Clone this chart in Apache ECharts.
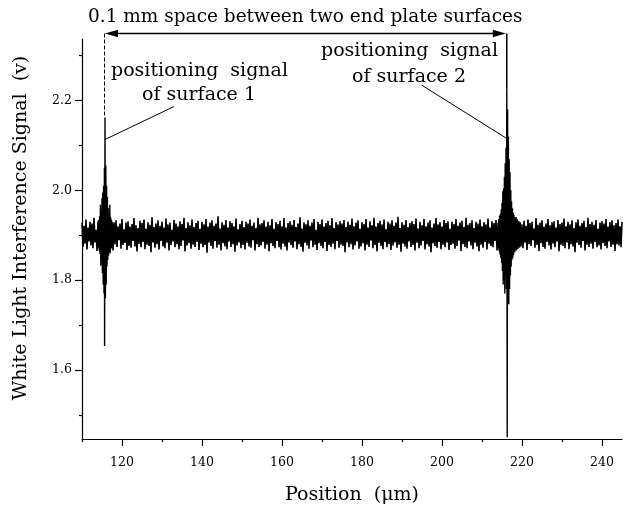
<!DOCTYPE html>
<html><head><meta charset="utf-8">
<script src="https://cdn.jsdelivr.net/npm/echarts@6/dist/echarts.min.js"></script>
<style>html,body{margin:0;padding:0;background:#fff}#c{width:624px;height:510px}</style>
</head><body><div id="c"></div>
<script>
// ---- data ----
const xMin = 110, xMax = 245;
const yMin = 1.446, yMax = 2.337;
const xMajorTicks = [120, 140, 160, 180, 200, 220, 240];
const xMinorTicks = [110, 130, 150, 170, 190, 210, 230];
const yMajorTicks = [1.6, 1.8, 2.0, 2.2];
const yMinorTicks = [1.5, 1.7, 1.9, 2.1, 2.3];
// baseline noise: upper swings sampled at 110, 110.5, ... ; lower swings at 110.25, 110.75, ...
const noiseStart = 110, noiseStep = 0.5;
const noiseHigh = [
1.928,1.921,1.935,1.917,1.930,1.926,1.939,1.912,1.931,1.924,
1.918,1.934,1.927,1.922,1.941,1.915,1.929,1.933,1.920,1.926,
1.936,1.913,1.928,1.931,1.919,1.925,1.938,1.922,1.916,1.932,
1.927,1.935,1.914,1.929,1.923,1.940,1.918,1.926,1.933,1.921,
1.930,1.917,1.937,1.924,1.928,1.912,1.934,1.926,1.920,1.931,
1.925,1.939,1.916,1.929,1.922,1.935,1.918,1.927,1.932,1.914,
1.930,1.924,1.936,1.919,1.928,1.933,1.921,1.926,1.942,1.915,
1.929,1.923,1.934,1.917,1.931,1.927,1.920,1.937,1.913,1.925,
1.932,1.918,1.930,1.926,1.935,1.921,1.928,1.916,1.939,1.924,
1.927,1.933,1.919,1.930,1.922,1.936,1.914,1.929,1.925,1.932,
1.920,1.938,1.917,1.927,1.931,1.923,1.934,1.918,1.926,1.940,
1.915,1.929,1.924,1.933,1.921,1.928,1.936,1.912,1.930,1.925,
1.935,1.919,1.927,1.932,1.922,1.938,1.916,1.929,1.924,1.931,
1.926,1.934,1.918,1.930,1.923,1.937,1.920,1.928,1.933,1.914,
1.929,1.925,1.936,1.917,1.931,1.922,1.939,1.919,1.927,1.932,
1.924,1.935,1.913,1.930,1.926,1.933,1.921,1.928,1.941,1.916,
1.929,1.923,1.934,1.918,1.927,1.931,1.925,1.937,1.915,1.930,
1.922,1.936,1.920,1.928,1.933,1.917,1.926,1.938,1.924,1.929,
1.919,1.934,1.927,1.931,1.914,1.930,1.925,1.936,1.921,1.928,
1.932,1.918,1.939,1.923,1.927,1.933,1.916,1.930,1.926,1.935,
1.920,1.929,1.924,1.937,1.917,1.931,1.927,1.934,1.922,1.928,
1.913,1.936,1.925,1.930,1.919,1.933,1.926,1.940,1.918,1.929,
1.924,1.932,1.921,1.935,1.927,1.930,1.915,1.938,1.923,1.928,
1.933,1.919,1.926,1.936,1.922,1.929,1.931,1.917,1.934,1.925,
1.928,1.937,1.920,1.930,1.924,1.933,1.916,1.929,1.935,1.921,
1.927,1.932,1.918,1.939,1.925,1.930,1.923,1.934,1.914,1.928,
1.931,1.926,1.936,1.919,1.929,1.933,1.922,1.927,1.935,1.920,
1.930
];
const noiseLow = [
1.874,1.881,1.868,1.886,1.877,1.871,1.884,1.865,1.879,1.888,
1.873,1.882,1.869,1.877,1.885,1.866,1.880,1.874,1.889,1.870,
1.878,1.883,1.867,1.876,1.872,1.887,1.875,1.864,1.881,1.873,
1.885,1.869,1.879,1.876,1.862,1.884,1.872,1.880,1.868,1.887,
1.875,1.871,1.883,1.866,1.878,1.886,1.873,1.880,1.869,1.876,
1.888,1.864,1.877,1.882,1.870,1.879,1.874,1.885,1.867,1.881,
1.873,1.878,1.861,1.884,1.876,1.870,1.887,1.872,1.879,1.866,
1.882,1.875,1.869,1.886,1.874,1.880,1.863,1.877,1.884,1.871,
1.878,1.868,1.883,1.875,1.872,1.889,1.866,1.880,1.874,1.877,
1.885,1.870,1.879,1.864,1.882,1.876,1.871,1.887,1.873,1.868,
1.881,1.875,1.866,1.884,1.878,1.872,1.886,1.869,1.880,1.874,
1.863,1.883,1.877,1.870,1.888,1.873,1.879,1.867,1.882,1.876,
1.871,1.885,1.865,1.878,1.874,1.881,1.869,1.887,1.872,1.879,
1.876,1.862,1.884,1.873,1.880,1.868,1.877,1.886,1.870,1.875,
1.882,1.866,1.879,1.874,1.888,1.871,1.878,1.864,1.883,1.876,
1.869,1.885,1.873,1.880,1.867,1.877,1.884,1.872,1.879,1.863,
1.881,1.875,1.870,1.886,1.874,1.878,1.866,1.883,1.871,1.877,
1.887,1.868,1.880,1.875,1.862,1.882,1.876,1.872,1.885,1.869,
1.879,1.873,1.884,1.867,1.878,1.881,1.870,1.876,1.888,1.865,
1.880,1.874,1.871,1.886,1.877,1.869,1.883,1.875,1.864,1.879,
1.872,1.885,1.868,1.881,1.876,1.873,1.887,1.866,1.878,1.882,
1.870,1.877,1.884,1.863,1.879,1.874,1.881,1.869,1.886,1.875,
1.871,1.883,1.867,1.880,1.876,1.889,1.872,1.878,1.865,1.882,
1.874,1.870,1.885,1.877,1.868,1.881,1.873,1.886,1.864,1.879,
1.876,1.871,1.884,1.869,1.880,1.875,1.862,1.883,1.878,1.872,
1.887,1.866,1.879,1.874,1.881,1.870,1.885,1.873,1.877,1.868,
1.882,1.876,1.871,1.886,1.874,1.879,1.865,1.880,1.877,1.873
];
const spike1 = [
[114.0,1.925],[114.1,1.872],[114.2,1.934],[114.3,1.866],[114.4,1.942],[114.5,1.858],[114.6,1.968],[114.7,1.832],
[114.8,1.955],[114.9,1.845],[115.0,1.982],[115.1,1.815],[115.2,1.995],[115.3,1.790],[115.4,2.010],[115.5,1.770],
[115.6,2.050],[115.65,1.653],[115.75,2.162],[115.85,1.760],[115.95,2.055],[116.05,1.790],[116.15,2.010],[116.25,1.830],
[116.35,1.985],[116.45,1.845],[116.55,1.960],[116.65,1.855],[116.75,1.948],[116.85,1.862],[116.95,1.968],[117.05,1.860],
[117.15,1.940],[117.25,1.870],[117.35,1.935],[117.45,1.872],[117.55,1.930],[117.65,1.874],[117.8,1.925]
];
const spike2 = [
[214.0,1.928],[214.1,1.870],[214.2,1.936],[214.3,1.864],[214.4,1.944],[214.5,1.857],[214.6,1.948],[214.7,1.850],
[214.8,1.958],[214.9,1.838],[215.0,1.972],[215.1,1.820],[215.2,1.998],[215.3,1.790],[215.4,2.004],[215.5,1.800],
[215.6,2.030],[215.7,1.770],[215.8,2.060],[215.9,1.810],[216.0,2.095],[216.1,1.780],[216.2,2.226],[216.3,1.450],
[216.4,2.180],[216.5,1.770],[216.6,2.120],[216.7,1.746],[216.8,2.069],[216.9,1.780],[217.0,2.040],[217.1,1.810],
[217.2,2.000],[217.3,1.830],[217.4,1.975],[217.5,1.845],[217.6,1.960],[217.7,1.850],[217.8,1.950],[217.9,1.856],
[218.0,1.945],[218.2,1.862],[218.4,1.940],[218.6,1.866],[218.8,1.936],[219.0,1.870],[219.2,1.932],[219.4,1.872],[219.6,1.928]
];
const spike1Peak = [115.75, 2.162];
const spike2Peak = [216.2, 2.226];
const titleText = '0.1 mm space between two end plate surfaces';
const label1 = ['positioning  signal', 'of surface 1'];
const label2 = ['positioning  signal', 'of surface 2'];
const xName = 'Position  (\u03bcm)';
const yName = 'White Light Interference Signal  (v)';

// ---- chart ----
const FONT = 'DejaVu Serif';
const noiseData = [];
noiseHigh.forEach((v, i) => {
  noiseData.push([noiseStart + i * noiseStep, v]);
  if (i < noiseLow.length) noiseData.push([noiseStart + (i + 0.5) * noiseStep, noiseLow[i]]);
});
const chart = echarts.init(document.getElementById('c'), null, {renderer: 'canvas'});
const axisCommon = {type: 'value', min: xMin, max: xMax};
chart.setOption({
  animation: false,
  backgroundColor: '#fff',
  grid: {left: 82, right: 2, top: 39, bottom: 70},
  xAxis: [
    Object.assign({}, axisCommon, {
      position: 'bottom',
      name: xName, nameLocation: 'middle', nameGap: 47,
      nameTextStyle: {fontFamily: FONT, fontSize: 19, color: '#000'},
      axisLine: {show: true, lineStyle: {color: '#000', width: 1.2}},
      axisTick: {show: true, inside: false, length: 7, customValues: xMajorTicks, lineStyle: {color: '#000', width: 1.2}},
      axisLabel: {show: true, margin: 17, customValues: xMajorTicks, fontFamily: FONT, fontSize: 12.5, color: '#000'},
      splitLine: {show: false}
    }),
    Object.assign({}, axisCommon, {
      position: 'bottom',
      axisLine: {show: false},
      axisTick: {show: true, length: 3, customValues: xMinorTicks, lineStyle: {color: '#000', width: 1.2}},
      axisLabel: {show: false},
      splitLine: {show: false}
    })
  ],
  yAxis: [
    {
      type: 'value', min: yMin, max: yMax, position: 'left',
      axisLine: {show: true, lineStyle: {color: '#000', width: 1.2}},
      axisTick: {show: true, length: 7, customValues: yMajorTicks, lineStyle: {color: '#000', width: 1.2}},
      axisLabel: {show: true, margin: 10, customValues: yMajorTicks, fontFamily: FONT, fontSize: 12.5, color: '#000',
        formatter: v => Number(v).toFixed(1)},
      splitLine: {show: false}
    },
    {
      type: 'value', min: yMin, max: yMax, position: 'left',
      axisLine: {show: false},
      axisTick: {show: true, length: 3, customValues: yMinorTicks, lineStyle: {color: '#000', width: 1.2}},
      axisLabel: {show: false},
      splitLine: {show: false}
    }
  ],
  series: [
    {type: 'line', data: noiseData, showSymbol: false, symbol: 'none',
     lineStyle: {color: '#000', width: 1.6}, silent: true, z: 2},
    {type: 'line', data: spike1, showSymbol: false, symbol: 'none',
     lineStyle: {color: '#000', width: 1.4}, silent: true, z: 3},
    {type: 'line', data: spike2, showSymbol: false, symbol: 'none',
     lineStyle: {color: '#000', width: 1.4}, silent: true, z: 3}
  ]
});

// ---- annotations (anchored to data through the axes) ----
const p1 = chart.convertToPixel({gridIndex: 0}, spike1Peak);
const p2 = chart.convertToPixel({gridIndex: 0}, spike2Peak);
const arrowY = 33.5;
const ah = 13, aw = 3.8;
// baseline-positioned text (middle of em box is ~0.35em above the baseline)
const txt = (s, x, base, fs, align) => ({type: 'text', x: x, y: base - 0.35 * fs,
  style: {text: s, fontFamily: FONT, fontSize: fs, fill: '#000', align: align || 'left', verticalAlign: 'middle'}});
chart.setOption({
  graphic: [
    {type: 'text', x: 21, y: 228, rotation: Math.PI / 2,
     style: {text: yName, fontFamily: FONT, fontSize: 19, fill: '#000', align: 'center', verticalAlign: 'middle'}},
    txt(titleText, 88, 24, 18.5),
    {type: 'line', shape: {x1: p1[0] + ah - 2, y1: arrowY, x2: p2[0] - ah + 2, y2: arrowY}, style: {stroke: '#000', lineWidth: 1.5}},
    {type: 'polygon', shape: {points: [[p1[0], arrowY], [p1[0] + ah, arrowY - aw], [p1[0] + ah, arrowY + aw]]}, style: {fill: '#000'}},
    {type: 'polygon', shape: {points: [[p2[0] - 1, arrowY], [p2[0] - 1 - ah, arrowY - aw], [p2[0] - 1 - ah, arrowY + aw]]}, style: {fill: '#000'}},
    {type: 'line', shape: {x1: p1[0] - 0.5, y1: arrowY, x2: p1[0] - 0.5, y2: p1[1]}, style: {stroke: '#000', lineWidth: 1, lineDash: [4, 2]}},
    {type: 'line', shape: {x1: p2[0], y1: arrowY, x2: p2[0], y2: p2[1]}, style: {stroke: '#000', lineWidth: 1.5}},
    txt(label1[0], 111, 78, 19),
    txt(label1[1], 199, 102, 19, 'center'),
    txt(label2[0], 321, 58, 19),
    txt(label2[1], 409, 84, 19, 'center'),
    {type: 'line', shape: {x1: 174, y1: 106.5, x2: p1[0], y2: 139.5}, style: {stroke: '#000', lineWidth: 1}},
    {type: 'line', shape: {x1: 421.5, y1: 85, x2: p2[0], y2: 138.5}, style: {stroke: '#000', lineWidth: 1}}
  ]
});
</script></body></html>
